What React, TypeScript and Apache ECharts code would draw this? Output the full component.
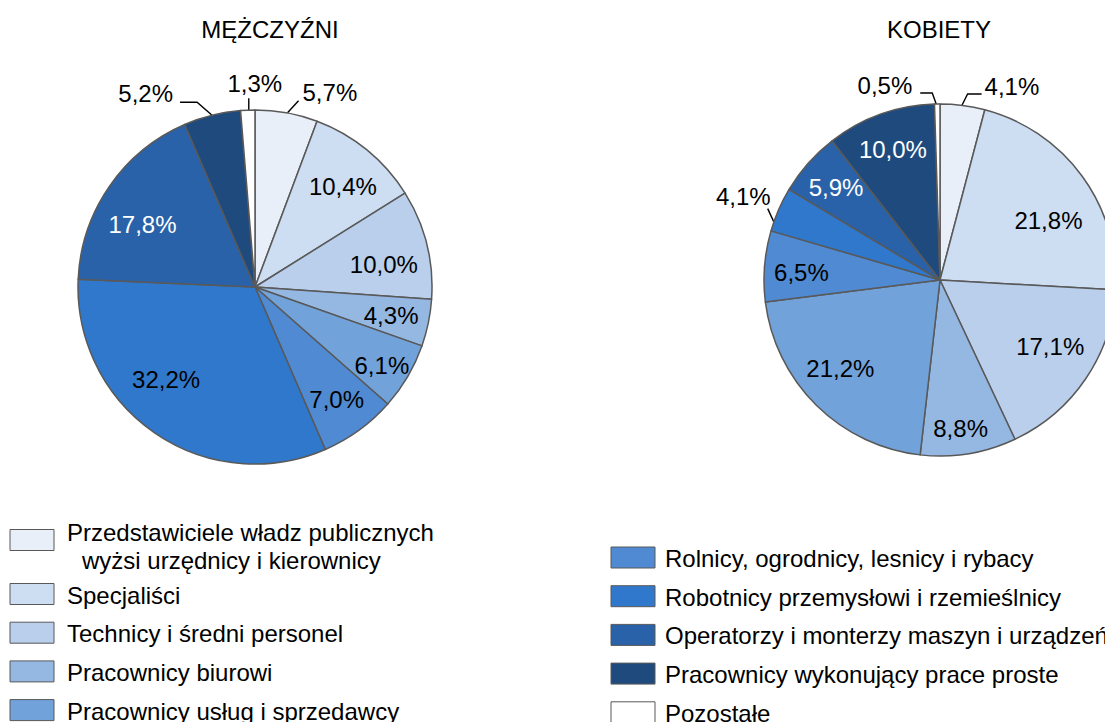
import React, { useEffect, useRef } from "react";
import * as echarts from "echarts";

const categories = [
  "Przedstawiciele władz publicznych\nwyżsi urzędnicy i kierownicy",
  "Specjaliści",
  "Technicy i średni personel",
  "Pracownicy biurowi",
  "Pracownicy usług i sprzedawcy",
  "Rolnicy, ogrodnicy, lesnicy i rybacy",
  "Robotnicy przemysłowi i rzemieślnicy",
  "Operatorzy i monterzy maszyn i urządzeń",
  "Pracownicy wykonujący prace proste",
  "Pozostałe",
];
const menValues = [5.7, 10.4, 10.0, 4.3, 6.1, 7.0, 32.2, 17.8, 5.2, 1.3];
const womenValues = [4.1, 21.8, 17.1, 8.8, 21.2, 6.5, 4.1, 5.9, 10.0, 0.5];
const titles = ["MĘŻCZYŹNI", "KOBIETY"];
const whiteLabelIdx = [7, 8];

const colors = [
  "#E8EFF8",
  "#CDDDF2",
  "#B9CFEC",
  "#95B8E3",
  "#72A2DA",
  "#4F8AD2",
  "#3078CB",
  "#2962A8",
  "#1F4A7E",
  "#FFFFFF",
];

// style: leader lines of outside labels, relative to the slice's outer mid point
const menLeaders: Record<number, any> = {
  0: { line: [[1, 0], [12, -12], [12, -12]], text: [16, -20], align: "left" },
  9: { line: [[1, 0], [1, -12], [1, -12]], text: [7, -27], align: "center" },
  8: { line: [[0, 0], [-15, -13], [-32, -13]], text: [-39, -22], align: "right" },
};
const womenLeaders: Record<number, any> = {
  0: { line: [[-1, 0.5], [5, -11.5], [19, -11.5]], text: [22, -18.5], align: "left" },
  9: { line: [[-1, 0], [-5, -11], [-17, -11]], text: [-25, -19], align: "right" },
  6: { line: [[-5, 12], [-11, -1], [-11, -1]], text: [-8, -13], align: "right" },
};
// style: nudges of inside labels (Excel "best fit" placement)
const menNudge: Record<number, number[]> = { 1: [0, 7], 2: [-6, 11], 4: [7, 8], 6: [-10, -22], 7: [2, 16] };
const womenNudge: Record<number, number[]> = { 1: [-4, 22], 2: [-5, -11], 3: [-2, 11], 4: [-2, -10], 5: [0, 3] };

const FONT = "'Liberation Sans', Arial, Helvetica, sans-serif";
const FS = 24;

const fmt = (p: any) => Number(p.value).toFixed(1).replace(".", ",") + "%";

function edgePoint(values: number[], idx: number, center: number[], r: number) {
  const total = values.reduce((a, b) => a + b, 0);
  let cum = 0;
  for (let i = 0; i < idx; i++) cum += values[i];
  const ang = ((cum + values[idx] / 2) / total) * Math.PI * 2;
  return [center[0] + r * Math.sin(ang), center[1] - r * Math.cos(ang)];
}

function pieSeries(
  values: number[],
  leaders: Record<number, any>,
  nudge: Record<number, number[]>,
  center: number[],
  r: number,
  rLabel: number
) {
  const isOut = (i: number) => leaders[i] !== undefined;
  const main = {
    type: "pie",
    center,
    radius: [0, r],
    startAngle: 90,
    clockwise: true,
    avoidLabelOverlap: false,
    silent: true,
    emphasis: { disabled: true },
    itemStyle: { borderColor: "#595959", borderWidth: 1.5 },
    label: {
      position: "outside",
      formatter: fmt,
      fontSize: FS,
      color: "#000",
      fontFamily: FONT,
    },
    labelLine: {
      length: 8,
      length2: 12,
      smooth: false,
      lineStyle: { color: "#000", width: 1.4 },
    },
    labelLayout: (params: any) => {
      const spec = leaders[params.dataIndex];
      if (!spec) return {};
      const p0 = edgePoint(values, params.dataIndex, center, r);
      return {
        x: p0[0] + spec.text[0],
        y: p0[1] + spec.text[1],
        align: spec.align,
        verticalAlign: "middle",
        labelLinePoints: spec.line.map((pt: number[]) => [p0[0] + pt[0], p0[1] + pt[1]]),
      };
    },
    data: values.map((v, i) => ({
      value: v,
      name: categories[i],
      itemStyle: { color: colors[i] },
      label: { show: isOut(i) },
      labelLine: { show: isOut(i) },
    })),
    z: 2,
  };
  const overlay = {
    type: "pie",
    center,
    radius: [0, rLabel],
    startAngle: 90,
    clockwise: true,
    avoidLabelOverlap: false,
    silent: true,
    emphasis: { disabled: true },
    itemStyle: { color: "rgba(0,0,0,0)", borderWidth: 0 },
    label: {
      position: "inside",
      formatter: fmt,
      fontSize: FS,
      fontFamily: FONT,
    },
    labelLine: { show: false },
    data: values.map((v, i) => ({
      value: v,
      name: categories[i],
      label: {
        show: !isOut(i),
        color: whiteLabelIdx.includes(i) ? "#FFFFFF" : "#000000",
        offset: nudge[i] || [0, 0],
      },
    })),
    z: 3,
  };
  return [main, overlay];
}

function legendGraphics() {
  const els: any[] = [];
  const font = `${FS}px ${FONT}`;
  categories.forEach((name, i) => {
    const col = i < 5 ? 0 : 1;
    const row = i % 5;
    const sx = col === 0 ? 10 : 611;
    const tx = col === 0 ? 67 : 665;
    const cy = col === 0 ? (row === 0 ? 540 : 594 + (row - 1) * 38.7) : 557.5 + row * 38.7;
    els.push({
      type: "rect",
      shape: { x: sx, y: cy - 10.5, width: 44, height: 21 },
      style: { fill: colors[i], stroke: "#595959", lineWidth: 1 },
    });
    const lines = name.split("\n");
    if (lines.length === 1) {
      els.push({
        type: "text",
        x: tx,
        y: cy + 1,
        style: { text: lines[0], font, fill: "#000", textAlign: "left", textVerticalAlign: "middle" },
      });
    } else {
      els.push({
        type: "text",
        x: tx,
        y: 532,
        style: { text: lines[0], font, fill: "#000", textAlign: "left", textVerticalAlign: "middle" },
      });
      els.push({
        type: "text",
        x: tx + 15,
        y: 560,
        style: { text: lines[1], font, fill: "#000", textAlign: "left", textVerticalAlign: "middle" },
      });
    }
  });
  return els;
}

export default function App() {
  const ref = useRef<HTMLDivElement>(null);
  useEffect(() => {
    if (!ref.current) return;
    const chart = echarts.init(ref.current, null, { renderer: "svg" });
    const font = `${FS}px ${FONT}`;
    const titleEls = [
      { type: "text", x: 270, y: 29, style: { text: titles[0], font, fill: "#000", textAlign: "center", textVerticalAlign: "middle" } },
      { type: "text", x: 939, y: 29, style: { text: titles[1], font, fill: "#000", textAlign: "center", textVerticalAlign: "middle" } },
    ];
    chart.setOption({
      animation: false,
      backgroundColor: "#FFFFFF",
      series: [
        ...pieSeries(menValues, menLeaders, menNudge, [255, 287], 177, 272),
        ...pieSeries(womenValues, womenLeaders, womenNudge, [940, 280], 176, 272),
      ],
      graphic: [...titleEls, ...legendGraphics()],
    });
    return () => chart.dispose();
  }, []);
  return (
    <div
      ref={ref}
      style={{ position: "fixed", left: 0, top: 0, width: 1105, height: 722, background: "#fff" }}
    />
  );
}
